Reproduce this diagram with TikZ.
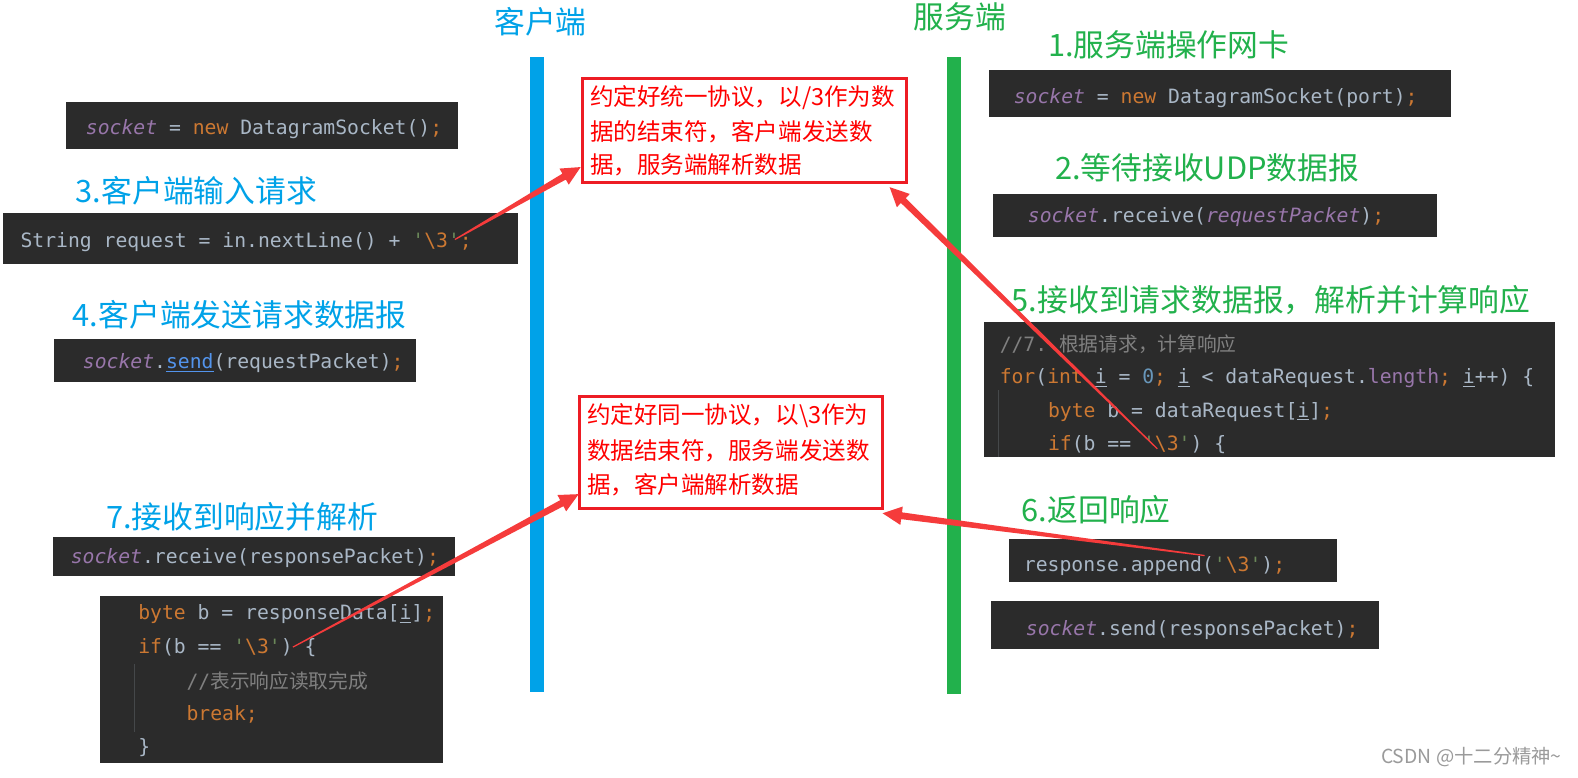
\documentclass[tikz,border=0pt]{standalone}
\usepackage{fontspec}
\setmainfont{Liberation Serif}
\setmonofont{DejaVu Sans Mono}
\newfontfamily\cjk{Noto Sans CJK SC}
\usetikzlibrary{calc}
\definecolor{cblue}{HTML}{00A2E8}
\definecolor{cgreen}{HTML}{22B14C}
\definecolor{cred}{HTML}{ED1C24}
\definecolor{ctext}{HTML}{FF0000}
\definecolor{carrow}{HTML}{F53B3B}
\definecolor{codebg}{HTML}{2B2B2B}
\definecolor{cdef}{HTML}{A9B7C6}
\definecolor{ckwc}{HTML}{CC7832}
\definecolor{cfldc}{HTML}{9876AA}
\definecolor{cstrc}{HTML}{6A8759}
\definecolor{cnum}{HTML}{6897BB}
\definecolor{ccom}{HTML}{808080}
\definecolor{clink}{HTML}{5394EC}
\definecolor{cguide}{HTML}{45484A}
\definecolor{cwm}{HTML}{9A9A9A}
\newcommand\ckw[1]{\textcolor{ckwc}{#1}}
\newcommand\cfld[1]{\textcolor{cfldc}{\itshape #1}}
\newcommand\qq{\textquotesingle}
\newcommand\esc{\textcolor{cstrc}{\qq}\textcolor{ckwc}{\textbackslash 3}\textcolor{cstrc}{\qq}}
\newcommand\codefont{\ttfamily\fontsize{9.8}{12}\selectfont}
\newcommand\tarrow[2]{%
  \coordinate (ta) at ($(#1)!0.3pt!90:(#2)$);
  \coordinate (tb) at ($(#1)!0.3pt!-90:(#2)$);
  \coordinate (hm) at ($(#2)!9.5pt!(#1)$);
  \coordinate (sa) at ($(hm)!1.7pt!90:(#2)$);
  \coordinate (sb) at ($(hm)!1.7pt!-90:(#2)$);
  \coordinate (ha) at ($(hm)!4.6pt!90:(#2)$);
  \coordinate (hb) at ($(hm)!4.6pt!-90:(#2)$);
  \fill[carrow] (ta) -- (sa) -- (ha) -- (#2) -- (hb) -- (sb) -- (tb) -- cycle;
}
\tikzset{
  head/.style={font=\cjk\fontsize{15.3}{18}\selectfont, anchor=west, inner sep=0},
  code/.style={font=\codefont, text=cdef, anchor=west, inner sep=0, yshift=-1pt},
  boxtext/.style={font=\cjk\fontsize{11.7}{14}\selectfont, text=ctext, anchor=west, inner sep=0},
  codebox/.style={fill=codebg},
  redbox/.style={draw=cred, line width=1.5pt},
  guide/.style={draw=cguide, line width=0.5pt}
}
\begin{document}
\begin{tikzpicture}[x=0.5pt,y=-0.5pt]
\useasboundingbox (0,0) rectangle (1568,773);
\fill[white] (0,0) rectangle (1568,773);

% lifelines
\fill[cblue] (527,57) rectangle (541,688);
\fill[cgreen] (941,57) rectangle (955,690);
\node[head, anchor=center, text=cblue] (tclient) at (537,22) {客户端};
\node[head, anchor=center, text=cgreen] (tserver) at (954,17) {服务端};

% left code blocks
\fill[codebox] (66,101) rectangle (455,148);
\node[code] (l1) at (85,126) {\cfld{socket} = \ckw{new} DatagramSocket()\ckw{;}};
\node[head, text=cblue] (h3) at (75,190) {3.客户端输入请求};
\fill[codebox] (3,212) rectangle (515,262);
\node[code] (l2) at (20,239) {String request = in.nextLine() + \esc\ckw{;}};
\node[head, text=cblue] (h4) at (72,313) {4.客户端发送请求数据报};
\fill[codebox] (54,337) rectangle (413,380);
\node[code] (l3) at (82,359) {\cfld{socket}.\textcolor{clink}{\underline{send}}(requestPacket)\ckw{;}};
\node[head, text=cblue] (h7) at (105,513) {7.接收到响应并解析};
\fill[codebox] (53,534) rectangle (452,572);
\node[code] (l4) at (70,553) {\cfld{socket}.receive(responsePacket)\ckw{;}};
\fill[codebox] (99,592) rectangle (440,758);
\draw[guide] (134,660) -- (134,727);
\node[code] (l5a) at (137,608) {\ckw{byte} b = responseData[\underline{i}]\ckw{;}};
\node[code] (l5b) at (137,641) {\ckw{if}(b == \esc) \{};
\node[code, text=ccom] (l5c) at (185,675) {//{\cjk 表示响应读取完成}};
\node[code] (l5d) at (185,708) {\ckw{break;}};
\node[code] (l5e) at (137,741) {\}};

% right code blocks
\node[head, text=cgreen] (h1) at (1041,45) {1.服务端操作网卡};
\fill[codebox] (983,70) rectangle (1442,116);
\node[code] (r1) at (1007,95) {\cfld{socket} = \ckw{new} DatagramSocket(port)\ckw{;}};
\node[head, text=cgreen] (h2) at (1048,167) {2.等待接收UDP数据报};
\fill[codebox] (987,193) rectangle (1428,235);
\node[code] (r2) at (1021,214) {\cfld{socket}.receive(\cfld{requestPacket})\ckw{;}};
\node[head, text=cgreen] (h5) at (1005,298) {5.接收到请求数据报，解析并计算响应};
\fill[codebox] (978,320) rectangle (1545,454);
\draw[guide] (992,388) -- (992,454);
\node[code, text=ccom] (r3a) at (993,340) {//7. {\cjk 根据请求，计算响应}};
\node[code] (r3b) at (993,374) {\ckw{for}(\ckw{int} \underline{i} = \textcolor{cnum}{0}\ckw{;} \underline{i} < dataRequest.\textcolor{cfldc}{length}\ckw{;} \underline{i}++) \{};
\node[code] (r3c) at (1041,407) {\ckw{byte} b = dataRequest[\underline{i}]\ckw{;}};
\node[code] (r3d) at (1041,440) {\ckw{if}(b == \esc) \{};
\node[head, text=cgreen] (h6) at (1015,507) {6.返回响应};
\fill[codebox] (1003,536) rectangle (1329,578);
\node[code] (r4) at (1017,560) {response.append(\esc)\ckw{;}};
\fill[codebox] (985,597) rectangle (1370,645);
\node[code] (r5) at (1019,624) {\cfld{socket}.send(responsePacket)\ckw{;}};

% red boxes
\draw[redbox] (579,78) rectangle (901,181);
\node[boxtext] (b1a) at (586,97) {约定好统一协议，以/3作为数};
\node[boxtext] (b1b) at (586,131) {据的结束符，客户端发送数};
\node[boxtext] (b1c) at (586,164) {据，服务端解析数据};
\draw[redbox] (576,394) rectangle (877,505);
\node[boxtext] (b2a) at (583,413) {约定好同一协议，以\textbackslash 3作为};
\node[boxtext] (b2b) at (583,448) {数据结束符，服务端发送数};
\node[boxtext] (b2c) at (583,482) {据，客户端解析数据};

% arrows
\coordinate (t1) at (452,238);  \coordinate (p1) at (577,166);
\coordinate (t2) at (291,643);  \coordinate (p2) at (575,491);
\coordinate (t3) at (1150,446); \coordinate (p3) at (884,186);
\coordinate (t4) at (1197,552); \coordinate (p4) at (877,510);
\tarrow{t1}{p1}
\tarrow{t2}{p2}
\tarrow{t3}{p3}
\tarrow{t4}{p4}

\node[anchor=west, inner sep=0, text=cwm, font=\cjk\fontsize{9.6}{11}\selectfont] (wm) at (1372,752) {CSDN @十二分精神\textasciitilde};
\end{tikzpicture}
\end{document}
